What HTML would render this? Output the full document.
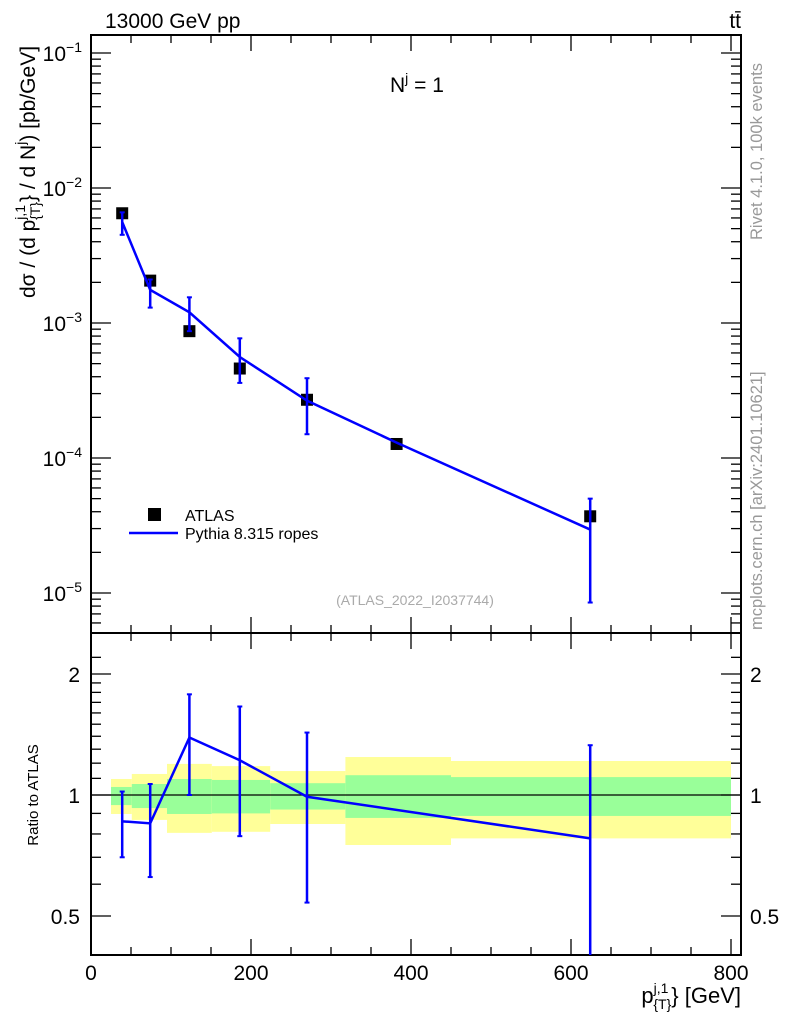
<!DOCTYPE html>
<html><head><meta charset="utf-8"><style>
body{margin:0;background:#fff;}
svg{display:block;font-family:"Liberation Sans",sans-serif;}
</style></head><body>
<svg id="c" width="786" height="1024" xmlns="http://www.w3.org/2000/svg">
<g id="bands"></g>
<g id="g"></g>
<text x="105" y="28" font-size="21">13000 GeV pp</text>
<text x="741" y="28" font-size="21" text-anchor="end">tt̄</text>
<text x="390" y="92" font-size="21">N<tspan dy="-9" font-size="14">j</tspan><tspan dy="9"> = 1</tspan></text>
<text x="415" y="605" font-size="14" fill="#aaa" text-anchor="middle">(ATLAS_2022_I2037744)</text>
<text transform="translate(762,240) rotate(-90)" font-size="16.5" fill="#999">Rivet 4.1.0,  100k events</text>
<text transform="translate(762,630) rotate(-90)" font-size="16.5" fill="#999">mcplots.cern.ch [arXiv:2401.10621]</text>
<text transform="translate(35,172) rotate(-90)" font-size="21" text-anchor="middle">dσ / (d p<tspan dy="-10" font-size="14">j,1</tspan><tspan dy="15" dx="-15" font-size="14">{T}</tspan><tspan dy="-5">} / d N</tspan><tspan dy="-10" font-size="14">j</tspan><tspan dy="10">) [pb/GeV]</tspan></text>
<text transform="translate(38,795) rotate(-90)" font-size="15" text-anchor="middle">Ratio to ATLAS</text>
<text x="741" y="1003" font-size="22" text-anchor="end">p<tspan dy="-10" font-size="14">j,1</tspan><tspan dy="16" dx="-15" font-size="14">{T}</tspan><tspan dy="-6">} [GeV]</tspan></text>
<rect x="148" y="508" width="13" height="13" fill="#000"/>
<text x="185" y="521" font-size="16">ATLAS</text>
<line x1="129" y1="533" x2="178" y2="533" stroke="#00f" stroke-width="2.5"/>
<text x="185" y="539" font-size="16">Pythia 8.315 ropes</text>
</svg>
<script>
const xCenters=[39,74,123,186,270,382,624];
const dataVals=[6.5e-3,2.06e-3,8.7e-4,4.6e-4,2.7e-4,1.27e-4,3.7e-5];
const mcVals=[5.6e-3,1.76e-3,1.2e-3,5.6e-4,2.66e-4,1.3e-4,2.95e-5];
const mcUp=[6.6e-3,2.1e-3,1.55e-3,7.7e-4,3.9e-4,1.35e-4,5.0e-5];
const mcDn=[4.5e-3,1.3e-3,8.7e-4,3.6e-4,1.5e-4,1.25e-4,8.5e-6];
const ratioVals=[0.86,0.85,1.39,1.22,0.99,0.88,0.78];
const ratioUp=[1.02,1.065,1.78,1.66,1.43,0.9,1.33];
const ratioDn=[0.70,0.625,1.0,0.79,0.54,0.86,0.3];
const binEdges=[25,51,95,151,224,318,450,800];
const yellowUp=[1.096,1.128,1.195,1.18,1.147,1.243,1.215];
const yellowDn=[0.897,0.867,0.805,0.81,0.847,0.751,0.78];
const greenUp=[1.047,1.065,1.096,1.09,1.07,1.12,1.108];
const greenDn=[0.944,0.928,0.897,0.90,0.92,0.877,0.887];
const xTicks=[0,200,400,600,800];
const yTickExp=[-1,-2,-3,-4,-5];
const rTicks=[0.5,1,2];

const L=91,R=741,T=35,M=633,B=955;
const X=v=>L+v*0.8;
const Y=v=>53+135*(-1-Math.log10(v));
const YR=r=>795-174.6*Math.log(r);
const NS="http://www.w3.org/2000/svg";
const g=document.getElementById('g'),bands=document.getElementById('bands');
function mk(t,a,p){const e=document.createElementNS(NS,t);for(const k in a)e.setAttribute(k,a[k]);(p||g).appendChild(e);return e;}

for(let i=0;i<binEdges.length-1;i++){
  let e=mk('rect',{x:X(binEdges[i]),y:YR(yellowUp[i]),width:X(binEdges[i+1])-X(binEdges[i]),height:YR(yellowDn[i])-YR(yellowUp[i]),fill:'#ffff99'},bands);
  
  
  e=mk('rect',{x:X(binEdges[i]),y:YR(greenUp[i]),width:X(binEdges[i+1])-X(binEdges[i]),height:YR(greenDn[i])-YR(greenUp[i]),fill:'#99ff99'},bands);
  
  
}
let f=mk('rect',{x:L,y:T,width:R-L,height:M-T,fill:'none',stroke:'#000','stroke-width':2});


f=mk('rect',{x:L,y:M,width:R-L,height:B-M,fill:'none',stroke:'#000','stroke-width':2});


let one=mk('line',{x1:L,x2:R,y1:YR(1),y2:YR(1),stroke:'#000','stroke-width':1.2});


for(let v=0;v<=800;v+=50){
  const maj=v%200===0, len=maj?16:8;
  for(const [y0,d] of [[T,1],[M,-1],[M,1],[B,-1]]) mk('line',{x1:X(v),x2:X(v),y1:y0,y2:y0+d*len,stroke:'#000','stroke-width':1.3});
}
xTicks.forEach(v=>{const t=mk('text',{x:X(v),y:980,'font-size':21,'text-anchor':'middle'});t.textContent=v;

});
for(const e of yTickExp){
  for(let m=1;m<10;m++){
    const val=m*Math.pow(10,e); if(e===-1&&m>1)continue;
    const y=Y(val); if(y<T||y>M)continue;
    const len=m===1?20:10;
    mk('line',{x1:L,x2:L+len,y1:y,y2:y,stroke:'#000','stroke-width':1.3});
    mk('line',{x1:R,x2:R-len,y1:y,y2:y,stroke:'#000','stroke-width':1.3});
  }
  const t=mk('text',{x:82,y:Y(Math.pow(10,e))+8,'font-size':21,'text-anchor':'end'});
  t.innerHTML='10<tspan dy="-9" font-size="14">'+(e===-1?'−1':'−'+(-e))+'</tspan>';
  
  
}
for(let m=2;m<10;m++){const y=Y(m*1e-6);if(y>T&&y<M){mk('line',{x1:L,x2:L+10,y1:y,y2:y,stroke:'#000','stroke-width':1.3});mk('line',{x1:R,x2:R-10,y1:y,y2:y,stroke:'#000','stroke-width':1.3});}}
const rMinor=[0.4,0.5,0.6,0.7,0.8,0.9,1,1.1,1.2,1.3,1.4,1.5,1.6,1.7,1.8,1.9,2,2.2];
rMinor.forEach(r=>{const y=YR(r);if(y<=M||y>=B)return;const maj=rTicks.includes(r);const len=maj?20:10;
mk('line',{x1:L,x2:L+len,y1:y,y2:y,stroke:'#000','stroke-width':1.3});mk('line',{x1:R,x2:R-len,y1:y,y2:y,stroke:'#000','stroke-width':1.3});});
rTicks.forEach(r=>{for(const [x,a] of [[80,'end'],[750,'start']]){const t=mk('text',{x:x,y:YR(r)+8,'font-size':21,'text-anchor':a});t.textContent=r;

}});
xCenters.forEach((x,i)=>{const r=mk('rect',{x:X(x)-6,y:Y(dataVals[i])-6,width:12,height:12,fill:'#000'});

});
let pl=mk('polyline',{points:xCenters.map((x,i)=>X(x)+','+Y(mcVals[i])).join(' '),fill:'none',stroke:'#00f','stroke-width':2.5});


function err(x,y1,y2,lo){const e=mk('line',{x1:x,x2:x,y1:y1,y2:Math.min(y2,lo),stroke:'#00f','stroke-width':2.5});


mk('line',{x1:x-2.5,x2:x+2.5,y1:y1,y2:y1,stroke:'#00f','stroke-width':2});if(y2<lo)mk('line',{x1:x-2.5,x2:x+2.5,y1:y2,y2:y2,stroke:'#00f','stroke-width':2});}
xCenters.forEach((x,i)=>{if(Math.abs(Y(mcUp[i])-Y(mcDn[i]))>6)err(X(x),Y(mcUp[i]),Y(mcDn[i]),M);});
pl=mk('polyline',{points:xCenters.filter((x,i)=>i!==5).map((x)=>{const i=xCenters.indexOf(x);return X(x)+','+YR(ratioVals[i]);}).join(' '),fill:'none',stroke:'#00f','stroke-width':2.5});


xCenters.forEach((x,i)=>{if(i!==5)err(X(x),YR(ratioUp[i]),YR(ratioDn[i]),B);});
</script>
</body></html>
